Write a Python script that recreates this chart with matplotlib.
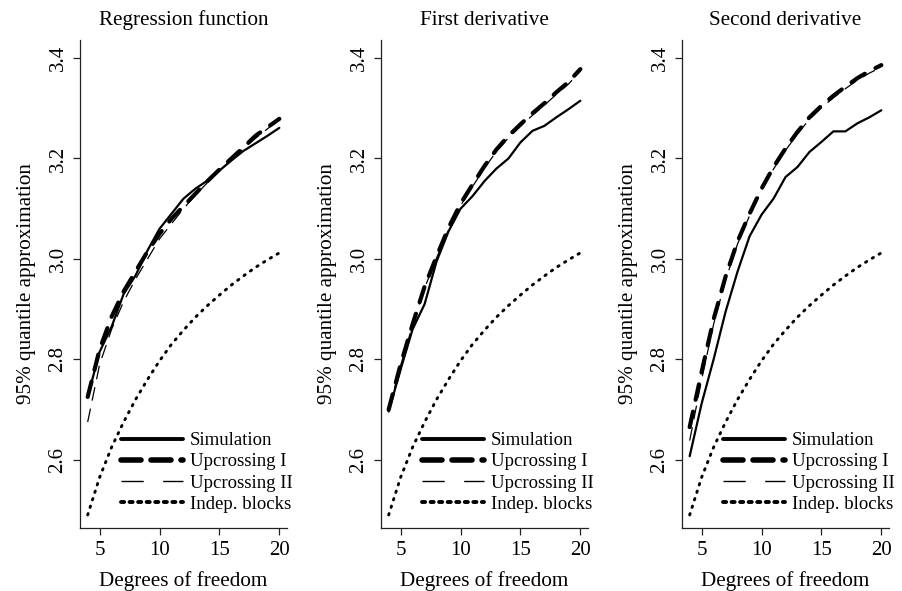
import matplotlib
matplotlib.use("Agg")
import matplotlib.pyplot as plt
from matplotlib.lines import Line2D

plt.rcParams['font.family'] = ['Liberation Serif', 'DejaVu Serif']

# ---- data ----
df = [4, 5, 6, 7, 8, 9, 10, 11, 12, 13, 14, 15, 16, 17, 18, 19, 20]

titles = ["Regression function", "First derivative", "Second derivative"]
series_labels = ["Simulation", "Upcrossing I", "Upcrossing II", "Indep. blocks"]
xticks = [5, 10, 15, 20]
yticks = [2.6, 2.8, 3.0, 3.2, 3.4]
ytick_labels = ["2.6", "2.8", "3.0", "3.2", "3.4"]

indep = [2.490, 2.565, 2.625, 2.675, 2.720, 2.760, 2.797, 2.830, 2.858,
         2.884, 2.907, 2.928, 2.948, 2.966, 2.983, 2.998, 3.012]

# Regression function
sim_reg = [2.725, 2.815, 2.865, 2.930, 2.967, 3.017, 3.060, 3.090, 3.120,
           3.140, 3.156, 3.176, 3.196, 3.215, 3.230, 3.245, 3.261]
up1_reg = [2.725, 2.820, 2.885, 2.935, 2.975, 3.015, 3.050, 3.080, 3.105,
           3.130, 3.155, 3.178, 3.200, 3.222, 3.245, 3.262, 3.279]
up2_reg = [2.675, 2.790, 2.860, 2.915, 2.960, 3.000, 3.040, 3.070, 3.100,
           3.127, 3.152, 3.175, 3.198, 3.220, 3.240, 3.259, 3.277]

# First derivative
sim_d1 = [2.696, 2.780, 2.860, 2.910, 2.995, 3.055, 3.100, 3.125, 3.155,
          3.180, 3.200, 3.232, 3.255, 3.265, 3.282, 3.298, 3.315]
up1_d1 = [2.700, 2.790, 2.870, 2.945, 3.005, 3.062, 3.110, 3.148, 3.185,
          3.218, 3.245, 3.268, 3.290, 3.310, 3.332, 3.352, 3.378]
up2_d1 = [2.700, 2.788, 2.868, 2.942, 3.002, 3.058, 3.106, 3.144, 3.181,
          3.214, 3.241, 3.264, 3.286, 3.306, 3.328, 3.348, 3.374]

# Second derivative
sim_d2 = [2.607, 2.712, 2.800, 2.895, 2.975, 3.045, 3.088, 3.120, 3.163,
          3.183, 3.213, 3.233, 3.254, 3.254, 3.270, 3.282, 3.296]
up1_d2 = [2.665, 2.775, 2.880, 2.965, 3.035, 3.090, 3.140, 3.183, 3.220,
          3.253, 3.282, 3.305, 3.325, 3.343, 3.360, 3.374, 3.386]
up2_d2 = [2.638, 2.760, 2.870, 2.958, 3.030, 3.086, 3.136, 3.179, 3.216,
          3.249, 3.278, 3.301, 3.321, 3.339, 3.356, 3.370, 3.382]

panels = [(sim_reg, up1_reg, up2_reg), (sim_d1, up1_d1, up2_d1), (sim_d2, up1_d2, up2_d2)]

# ---- figure ----
W, H = 902, 591
fig = plt.figure(figsize=(W / 100, H / 100), dpi=100)
lefts = [80, 381, 682]
ax_w = 207
ax_top, ax_bot = 40, 528

FS_TITLE = 15.2
FS_TICK = 15
FS_LEG = 13.5

for i, (sim, up1, up2) in enumerate(panels):
    ax = fig.add_axes([lefts[i] / W, (H - ax_bot) / H, ax_w / W, (ax_bot - ax_top) / H])
    ax.plot(df, sim, color='black', lw=1.6, solid_capstyle='round', solid_joinstyle='round')
    ax.plot(df, up1, color='black', lw=3.0, dashes=(3.8, 2.9), dash_capstyle='round')
    ax.plot(df, up2, color='black', lw=0.9, dashes=(11, 6.5))
    ax.plot(df, indep, color='black', lw=2.1, dashes=(0.5, 2.2), dash_capstyle='round')

    ax.set_xlim(3.36, 20.64)
    ax.set_ylim(2.464, 3.436)
    ax.set_xticks(xticks)
    ax.set_xticklabels([str(t) for t in xticks])
    ax.set_yticks(yticks)
    ax.set_yticklabels(ytick_labels)
    for s in ['top', 'right']:
        ax.spines[s].set_visible(False)
    for s in ['left', 'bottom']:
        ax.spines[s].set_linewidth(0.9)
        ax.spines[s].set_color('#222222')
    ax.tick_params(axis='both', direction='out', length=5, width=0.9, colors='#222222',
                   labelsize=FS_TICK, labelcolor='black')
    ax.tick_params(axis='x', pad=4.5)
    ax.tick_params(axis='y', pad=4, labelrotation=90)
    for lab in ax.get_yticklabels():
        lab.set_va('center')
    ax.set_title(titles[i], fontsize=FS_TITLE, pad=11)
    ax.set_xlabel("Degrees of freedom", fontsize=FS_TITLE, labelpad=8)
    ax.set_ylabel("95% quantile approximation", fontsize=FS_TITLE, labelpad=9)

    handles = [
        Line2D([], [], color='black', lw=2.8, solid_capstyle='round'),
        Line2D([], [], color='black', lw=4.0, dashes=(3.6, 1.8), dash_capstyle='round'),
        Line2D([], [], color='black', lw=1.0, dashes=(16, 14)),
        Line2D([], [], color='black', lw=2.8, dashes=(0.8, 1.4), dash_capstyle='round'),
    ]
    ax.legend(handles, series_labels, loc='lower left', bbox_to_anchor=(0.2, 0.031),
              frameon=False, fontsize=FS_LEG, handlelength=3.3, handletextpad=0.35,
              labelspacing=0.22, borderpad=0, borderaxespad=0)

fig.savefig("out.png", dpi=100)
